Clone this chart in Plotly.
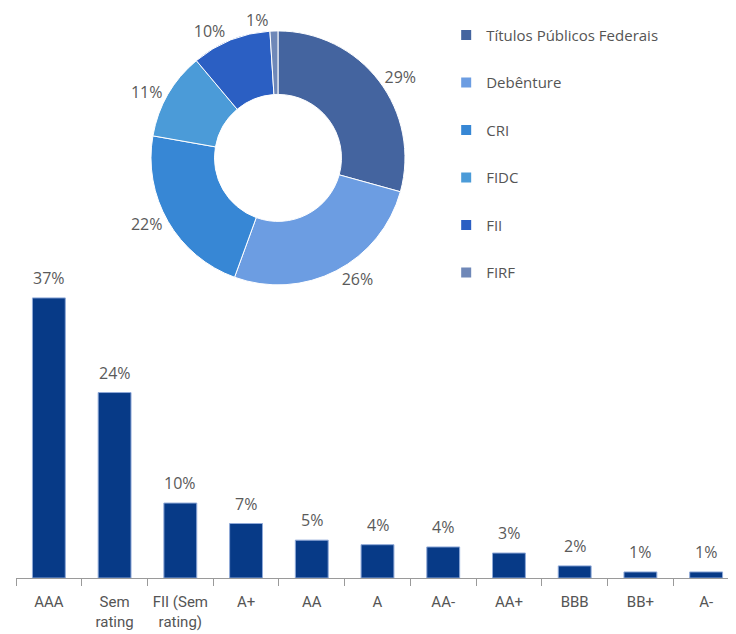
import plotly.graph_objects as go

# rating distribution (bars)
ratings = ["AAA", "Sem<br>rating", "FII (Sem<br>rating)", "A+", "AA", "A", "AA-", "AA+", "BBB", "BB+", "A-"]
rating_pct = [37, 24.5, 9.9, 7.2, 5.0, 4.4, 4.1, 3.3, 1.6, 0.8, 0.8]

# asset type distribution (donut)
asset_types = ["Títulos Públicos Federais", "Debênture", "CRI", "FIDC", "FII", "FIRF"]
asset_pct = [29, 26, 22, 11, 10, 1]
asset_colors = ["#44649f", "#6c9de2", "#3787d5", "#4b9bd8", "#2b5fc3", "#6f88b8"]

pie_domain = dict(x=[0.1867, 0.538], y=[0.514, 0.96])
label_font = dict(size=16, color="#5a5a5a", family="Open Sans")

fig = go.Figure()

fig.add_trace(go.Bar(
    x=ratings, y=rating_pct,
    marker=dict(color="#073a87", line=dict(color="#8fa9d8", width=1)),
    width=0.5,
    showlegend=False,
    hoverinfo="x+y",
))

# value labels above the bars
for cat, v in zip(ratings, rating_pct):
    fig.add_annotation(x=cat, y=v, text=f"{round(v):.0f}%", showarrow=False,
                       yanchor="bottom", yshift=7,
                       font=dict(size=16, color="#5a5a5a", family="Open Sans"))

# the tiny last slice gets its label from a second, transparent copy of the pie
# so plotly doesn't push it away from its neighbour with a leader line
small = [v < 5 for v in asset_pct]
fig.add_trace(go.Pie(
    labels=asset_types, values=asset_pct,
    hole=0.5, sort=False, direction="clockwise", rotation=0,
    marker=dict(colors=asset_colors, line=dict(color="white", width=1)),
    texttemplate="%{value}%",
    textposition=["none" if s else "outside" for s in small],
    textfont=label_font,
    domain=pie_domain,
    showlegend=False,
))
fig.add_trace(go.Pie(
    labels=asset_types, values=asset_pct,
    hole=0.5, sort=False, direction="clockwise", rotation=0,
    marker=dict(colors=["rgba(0,0,0,0)"] * len(asset_pct), line=dict(width=0)),
    texttemplate="%{value}%",
    textposition=["outside" if s else "none" for s in small],
    textfont=label_font,
    domain=pie_domain,
    showlegend=False, hoverinfo="skip",
))

# legend entries as separate groups so they can be spaced out
for name, col in zip(asset_types, asset_colors):
    fig.add_trace(go.Scatter(
        x=[None], y=[None], mode="markers", name=name, legendgroup=name,
        marker=dict(symbol="square", size=10, color=col),
    ))

fig.update_layout(
    width=736, height=634,
    margin=dict(l=8, r=5, t=0, b=64, autoexpand=False),
    plot_bgcolor="white", paper_bgcolor="white",
    font=dict(family="Open Sans", color="#555555"),
    bargap=0.5,
    legend=dict(x=0.595, y=0.981, xanchor="left", yanchor="top",
                font=dict(size=15, color="#555555"), tracegroupgap=25,
                itemwidth=30),
    xaxis=dict(showline=True, linecolor="#9a9a9a", linewidth=1,
               ticks="outside", tickson="boundaries", ticklen=7, tickcolor="#9a9a9a",
               tickfont=dict(size=15, color="#555555", family="Roboto"),
               tickangle=0, ticklabelstandoff=10, automargin=False,
               showgrid=False),
    yaxis=dict(visible=False, range=[0, 75.3], showgrid=False),
)

fig.write_html("out.html")
